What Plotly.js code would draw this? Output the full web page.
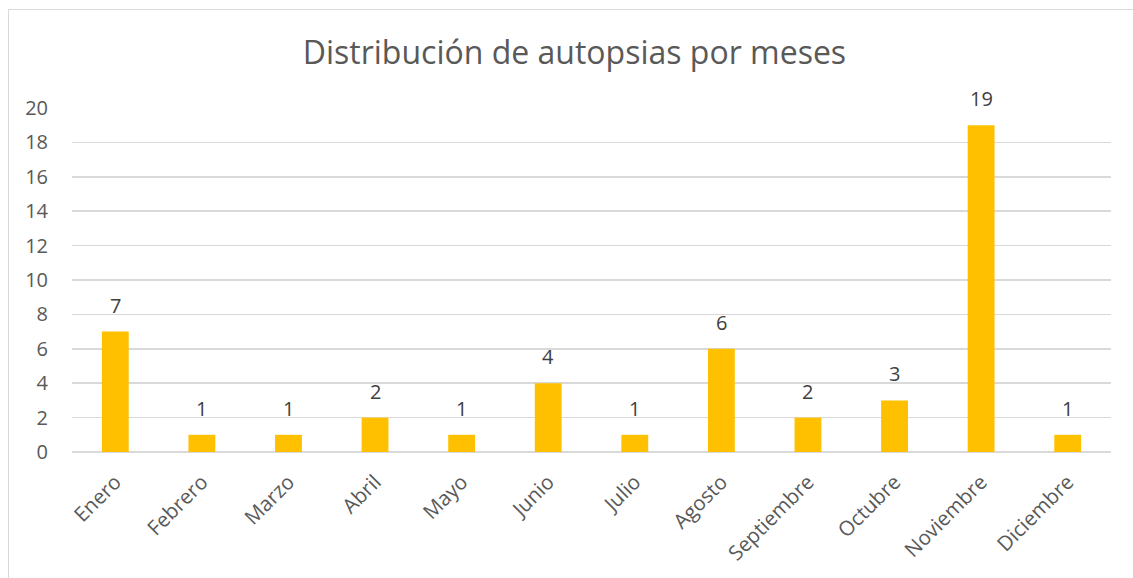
<!DOCTYPE html>
<html>
<head>
<meta charset="utf-8">
<script src="https://cdn.plot.ly/plotly-3.0.1.min.js"></script>
<style>
html,body{margin:0;padding:0;background:#fff;overflow:hidden;}
#chart{width:1133px;height:578px;position:absolute;left:0;top:0;}
#frame{position:absolute;left:8px;top:9px;width:1140px;height:600px;border:1.5px solid #d9d9d9;pointer-events:none;}
</style>
</head>
<body>
<div id="chart"></div>
<div id="frame"></div>
<script>
const months = ["Enero","Febrero","Marzo","Abril","Mayo","Junio","Julio","Agosto","Septiembre","Octubre","Noviembre","Diciembre"];
const autopsias = [7,1,1,2,1,4,1,6,2,3,19,1];
const yTicks = [0,2,4,6,8,10,12,14,16,18,20];

const font = "Open Sans, Liberation Sans, sans-serif";
const trace = {
  type: "bar",
  x: months,
  y: autopsias,
  marker: {color: "#FFC000"},
  hoverinfo: "x+y"
};
const labels = months.map((m, i) => ({
  x: m, y: autopsias[i], xref: "x", yref: "y",
  text: String(autopsias[i]), showarrow: false,
  yanchor: "bottom", yshift: 11,
  font: {family: font, size: 20, color: "#404040"}
}));
const layout = {
  width: 1133, height: 578,
  margin: {l: 72, r: 22, t: 108, b: 126},
  paper_bgcolor: "rgba(0,0,0,0)",
  plot_bgcolor: "#fff",
  bargap: 0.69,
  showlegend: false,
  annotations: labels,
  title: {text: "Distribución de autopsias por meses", font: {family: font, size: 32, color: "#595959"}, x: 0.507, xanchor: "center", y: 0.908, yanchor: "middle"},
  xaxis: {
    tickangle: -45,
    tickfont: {family: font, size: 20.5, color: "#595959"},
    showgrid: false, showline: false, zeroline: false, ticks: "",
    ticklabelstandoff: 13
  },
  yaxis: {
    range: [0, 20],
    tickvals: yTicks,
    ticktext: yTicks.map(String),
    tickfont: {family: font, size: 20, color: "#595959"},
    gridcolor: "#d9d9d9", gridwidth: 1.5,
    zeroline: true, zerolinecolor: "#d9d9d9", zerolinewidth: 1.5,
    showline: false, ticks: "", ticklabelstandoff: 23
  }
};
Plotly.newPlot("chart", [trace], layout, {staticPlot: true});
</script>
</body>
</html>
